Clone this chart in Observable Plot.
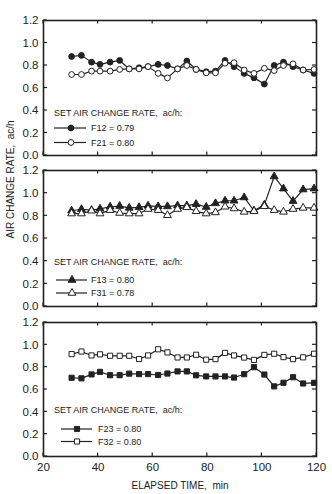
<!DOCTYPE html>
<html>
<head>
<meta charset="utf-8">
<script src="https://cdn.jsdelivr.net/npm/d3@7"></script>
<script src="https://cdn.jsdelivr.net/npm/@observablehq/plot@0.6"></script>
<style>
  body { margin: 0; background: #fff; }
  #chart { width: 332px; height: 494px; position: relative; }
  #chart svg { display: block; }
</style>
</head>
<body>
<div id="chart"></div>
<script>
// Sampling times, minutes
const timeMin = [30.3, 33.9, 37.6, 40.7, 44.4, 47.9, 51.4, 55.0, 58.3, 62.0, 65.4, 69.1, 72.5,
                 75.9, 79.6, 83.0, 86.5, 89.8, 93.5, 97.1, 100.9, 104.5, 107.9, 111.4, 115.1, 119.1];

// Measured air change rates, ac/h
const f12 = [0.88, 0.89, 0.83, 0.81, 0.83, 0.845, 0.77, 0.78, 0.79, 0.81, 0.80, 0.77, 0.84,
             0.765, 0.745, 0.75, 0.845, 0.79, 0.73, 0.69, 0.635, 0.80, 0.83, 0.79, 0.76, 0.73];
const f21 = [0.72, 0.72, 0.75, 0.75, 0.75, 0.765, 0.77, 0.77, 0.79, 0.73, 0.69, 0.77, 0.80,
             0.765, 0.735, 0.735, 0.82, 0.825, 0.76, 0.73, 0.775, 0.755, 0.80, 0.815, 0.76, 0.765];
const f13 = [0.845, 0.858, 0.85, 0.862, 0.88, 0.886, 0.87, 0.875, 0.888, 0.883, 0.883, 0.89, 0.89,
             0.903, 0.878, 0.91, 0.933, 0.933, 0.962, 0.845, 0.897, 1.147, 1.04, 0.93, 1.032, 1.04];
const f31 = [0.82, 0.82, 0.845, 0.82, 0.85, 0.825, 0.82, 0.82, 0.86, 0.85, 0.805, 0.86, 0.875,
             0.84, 0.82, 0.83, 0.88, 0.865, 0.835, 0.84, 0.885, 0.85, 0.835, 0.86, 0.87, 0.87];
const f23 = [0.705, 0.70, 0.735, 0.758, 0.728, 0.728, 0.742, 0.738, 0.738, 0.73, 0.743, 0.762, 0.762,
             0.727, 0.717, 0.717, 0.717, 0.707, 0.737, 0.80, 0.734, 0.628, 0.66, 0.71, 0.654, 0.66];
const f32 = [0.917, 0.94, 0.905, 0.915, 0.902, 0.902, 0.902, 0.873, 0.905, 0.96, 0.932, 0.887, 0.887,
             0.911, 0.867, 0.872, 0.928, 0.905, 0.886, 0.865, 0.91, 0.92, 0.89, 0.872, 0.888, 0.92];

// Set (nominal) rates shown in the legends
const legendLabels = ["F12 = 0.79", "F21 = 0.80", "F13 = 0.80", "F31 = 0.78", "F23 = 0.80", "F32 = 0.80"];
const legendTitle = "SET AIR CHANGE RATE,\u00a0 ac/h:";

const xTicks = [20, 40, 60, 80, 100, 120];
const yTicks = [0, 0.2, 0.4, 0.6, 0.8, 1.0, 1.2];
const xLabel = "ELAPSED TIME,\u00a0 min";
const yLabel = "AIR CHANGE RATE,\u00a0 ac/h";

const INK = "#222";
const FONT = "'Liberation Sans', Arial, Helvetica, sans-serif";
const R = 2.9;

const symbols = {circle: d3.symbolCircle, triangle: d3.symbolTriangle, square: d3.symbolSquare};

// Panel layout: svg height, margins, legend placement (pixels from the frame's top-left)
const panels = [
  {
    series: [
      {values: f12, label: legendLabels[0], symbol: "circle", filled: true},
      {values: f21, label: legendLabels[1], symbol: "circle", filled: false}
    ],
    height: 160, marginTop: 20, marginBottom: 5,
    legend: {titleX: 11, titleY: 93, lineX: [11, 43], markX: 28, textX: 48, rowY: [108, 122.5]}
  },
  {
    series: [
      {values: f13, label: legendLabels[2], symbol: "triangle", filled: true},
      {values: f31, label: legendLabels[3], symbol: "triangle", filled: false}
    ],
    height: 152, marginTop: 10, marginBottom: 6, yLabel: true,
    legend: {titleX: 11, titleY: 92, lineX: [13, 44], markX: 29, textX: 48, rowY: [110, 123]}
  },
  {
    series: [
      {values: f23, label: legendLabels[4], symbol: "square", filled: true},
      {values: f32, label: legendLabels[5], symbol: "square", filled: false}
    ],
    height: 182, marginTop: 10, marginBottom: 38, xAxis: true,
    legend: {titleX: 11, titleY: 88, lineX: [18, 49], markX: 34, textX: 55, rowY: [107, 119.5]}
  }
];

// Inward ticks on all four sides of the frame
function frameTicks(index, scales) {
  const {x, y} = scales;
  const g = d3.create("svg:g").attr("stroke", INK).attr("stroke-width", 1.2);
  const [x0, x1] = [x(20), x(120)];
  const [y0, y1] = [y(0), y(1.2)];
  for (const t of xTicks) {
    g.append("line").attr("x1", x(t)).attr("x2", x(t)).attr("y1", y1).attr("y2", y1 + 3.5);
    g.append("line").attr("x1", x(t)).attr("x2", x(t)).attr("y1", y0).attr("y2", y0 - 3.5);
  }
  for (const v of yTicks) {
    g.append("line").attr("x1", x0).attr("x2", x0 + 4).attr("y1", y(v)).attr("y2", y(v));
    g.append("line").attr("x1", x1).attr("x2", x1 - 4).attr("y1", y(v)).attr("y2", y(v));
  }
  return g.node();
}

// Legend block: title line plus one line-and-marker sample per series
function legendMark(panel) {
  return (index, scales) => {
    const ox = scales.x(20), oy = scales.y(1.2);
    const L = panel.legend;
    const g = d3.create("svg:g")
      .attr("font-family", FONT).attr("font-size", 9).attr("fill", INK)
      .attr("text-anchor", "start");
    g.append("text")
      .attr("x", ox + L.titleX).attr("y", oy + L.titleY).attr("dy", "0.35em")
      .text(legendTitle);
    panel.series.forEach((s, i) => {
      const yy = oy + L.rowY[i];
      g.append("line")
        .attr("x1", ox + L.lineX[0]).attr("x2", ox + L.lineX[1])
        .attr("y1", yy).attr("y2", yy)
        .attr("stroke", INK).attr("stroke-width", 1.2);
      g.append("path")
        .attr("transform", `translate(${ox + L.markX},${yy})`)
        .attr("d", d3.symbol(symbols[s.symbol], Math.PI * R * R)())
        .attr("fill", s.filled ? INK : "white")
        .attr("stroke", INK).attr("stroke-width", 1);
      g.append("text")
        .attr("x", ox + L.textX).attr("y", yy).attr("dy", "0.35em")
        .text(s.label);
    });
    return g.node();
  };
}

const chart = document.getElementById("chart");

for (const panel of panels) {
  const marks = [];
  for (const s of panel.series) {
    const rows = timeMin.map((t, i) => ({t, v: s.values[i]}));
    marks.push(Plot.line(rows, {x: "t", y: "v", stroke: INK, strokeWidth: 1.2}));
    marks.push(Plot.dot(rows, {
      x: "t", y: "v", symbol: s.symbol, r: R,
      fill: s.filled ? INK : "white", stroke: INK, strokeWidth: 1
    }));
  }
  marks.push(Plot.frame({stroke: INK, strokeWidth: 1.6}));
  marks.push(frameTicks);
  marks.push(Plot.axisY({ticks: yTicks, tickSize: 0, tickPadding: 5, tickFormat: d3.format(".1f"), label: null}));
  if (panel.xAxis) {
    marks.push(Plot.axisX({ticks: xTicks, tickSize: 0, tickPadding: 6, tickFormat: d => String(d), label: null}));
    marks.push(Plot.text([xLabel], {frameAnchor: "bottom", dy: 32, text: d => d, fontSize: 10, fill: INK}));
  }
  if (panel.yLabel) {
    marks.push(Plot.text([yLabel], {frameAnchor: "left", dx: -33, rotate: -90, text: d => d, fontSize: 10, fill: INK}));
  }
  marks.push(legendMark(panel));

  const svg = Plot.plot({
    width: 332,
    height: panel.height,
    marginLeft: 43,
    marginRight: 16,
    marginTop: panel.marginTop,
    marginBottom: panel.marginBottom,
    x: {domain: [20, 120], ...(panel.xAxis ? {} : {axis: null})},
    y: {domain: [0, 1.2]},
    style: {fontFamily: FONT, fontSize: "11.5px", color: INK, background: "white", overflow: "visible"},
    marks
  });
  chart.appendChild(svg);
}
</script>
</body>
</html>
